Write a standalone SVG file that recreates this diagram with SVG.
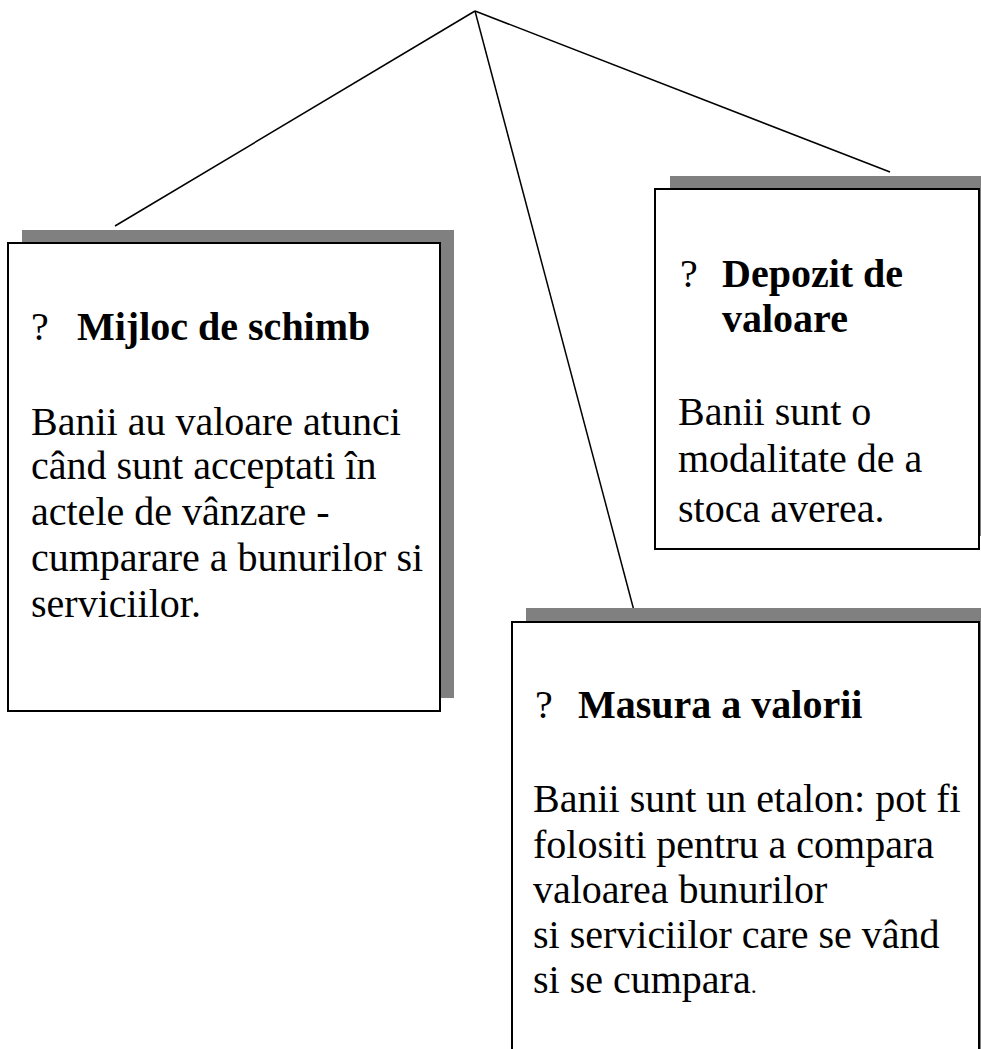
<svg xmlns="http://www.w3.org/2000/svg" width="981" height="1049" viewBox="0 0 981 1049">
<style>
.shadow{fill:#808080;stroke:none}
.box{fill:#ffffff;stroke:#000000;stroke-width:2}
.conn{stroke:#000000;stroke-width:1.5;fill:none}
text{font-family:"Liberation Serif","Times New Roman",serif;font-size:40px;fill:#000000}
.b{font-weight:bold}
</style>
<rect width="981" height="1049" fill="#ffffff"/>
<g id="connectors">
<line class="conn" x1="475" y1="11" x2="115" y2="226"/>
<line class="conn" x1="475" y1="11" x2="890" y2="172"/>
<line class="conn" x1="475" y1="11" x2="637" y2="622"/>
</g>
<g id="node-mijloc">
<rect class="shadow" x="22" y="230" width="432" height="468"/>
<rect class="box" x="8" y="243" width="432" height="468"/>
<text x="31" y="340">?</text>
<text class="b" x="77" y="340">Mijloc de schimb</text>
<text x="31" y="435">Banii au valoare atunci</text>
<text x="31" y="479">când sunt acceptati în</text>
<text x="31" y="525">actele de  vânzare -</text>
<text x="31" y="571">cumparare a bunurilor si</text>
<text x="31" y="617">serviciilor.</text>
</g>
<g id="node-depozit">
<rect class="shadow" x="670" y="176" width="324" height="360"/>
<rect class="box" x="655" y="189" width="324" height="360"/>
<text x="680" y="287">?</text>
<text class="b" x="722" y="287">Depozit de</text>
<text class="b" x="722" y="332">valoare</text>
<text x="678" y="425">Banii sunt o</text>
<text x="678" y="472">modalitate de a</text>
<text x="678" y="522">stoca averea.</text>
</g>
<g id="node-masura">
<rect class="shadow" x="526" y="608" width="467" height="470"/>
<rect class="box" x="512" y="622" width="467" height="470"/>
<text x="535" y="718">?</text>
<text class="b" x="578" y="718">Masura a valorii</text>
<text x="533" y="812">Banii sunt un etalon: pot fi</text>
<text x="533" y="858">folositi pentru a compara</text>
<text x="533" y="903">valoarea bunurilor</text>
<text x="533" y="948">si serviciilor care se vând</text>
<text x="533" y="993">si se cumpara<tspan font-size="24">.</tspan></text>
</g>
</svg>
